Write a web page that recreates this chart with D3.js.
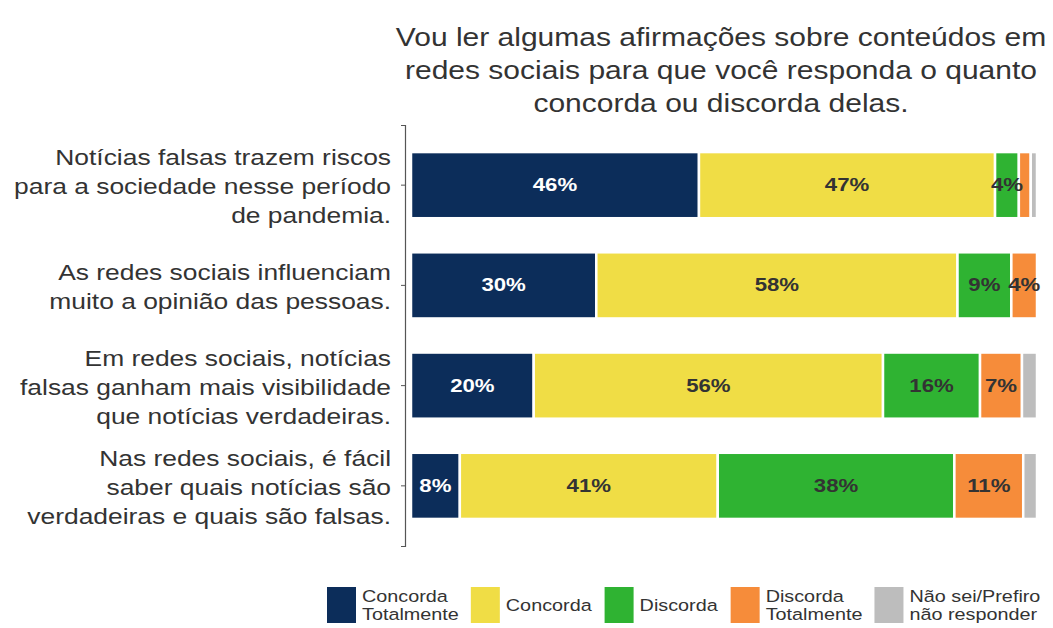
<!DOCTYPE html>
<html>
<head>
<meta charset="utf-8">
<script src="https://cdn.jsdelivr.net/npm/d3@7"></script>
<style>
  body { margin: 0; background: #fff; }
  text { font-family: "Liberation Sans", Arial, sans-serif; }
</style>
</head>
<body>
<div id="chart"></div>
<script>
// statements, top to bottom
const statements = [
  ["Notícias falsas trazem riscos", "para a sociedade nesse período", "de pandemia."],
  ["As redes sociais influenciam", "muito a opinião das pessoas."],
  ["Em redes sociais, notícias", "falsas ganham mais visibilidade", "que notícias verdadeiras."],
  ["Nas redes sociais, é fácil", "saber quais notícias são", "verdadeiras e quais são falsas."]
];
const answers = ["Concorda Totalmente", "Concorda", "Discorda", "Discorda Totalmente", "Não sei/Prefiro não responder"];
const legendLines = [["Concorda", "Totalmente"], ["Concorda"], ["Discorda"], ["Discorda", "Totalmente"], ["Não sei/Prefiro", "não responder"]];

// shares per statement (percent)
const concordaTotal = [46.0, 29.6, 19.6, 7.8];
const concorda      = [47.3, 57.7, 55.8, 41.2];
const discorda      = [3.8, 8.6, 15.5, 37.8];
const discordaTotal = [1.9, 4.1, 6.7, 11.0];
const naoSei        = [1.0, 0, 2.4, 2.2];
// printed labels
const labelsCT = ["46%", "30%", "20%", "8%"];
const labelsC  = ["47%", "58%", "56%", "41%"];
const labelsD  = ["4%", "9%", "16%", "38%"];
const labelsDT = ["", "4%", "7%", "11%"];
const labelsN  = ["", "", "", ""];

const COLORS = ["#0c2d5a", "#f0dd45", "#2fb332", "#f68c3a", "#bdbdbd"];
const TEXT = "#333";
const W = 1053, H = 628;
const SX = 1.2; // the picture is a bit wider than tall, text too

const series = [concordaTotal, concorda, discorda, discordaTotal, naoSei];
const labels = [labelsCT, labelsC, labelsD, labelsDT, labelsN];

const rows = statements.map((s, i) => {
  let x0 = 0;
  return {
    id: i,
    segs: series.map((arr, k) => {
      const seg = { k: k, x0: x0, x1: x0 + arr[i], label: labels[k][i] };
      x0 += arr[i];
      return seg;
    })
  };
});

const svg = d3.select("#chart").append("svg")
  .attr("width", W).attr("height", H);

// multi-line text, stretched along x
function addText(parent, x, y, lines, lh, size, anchor) {
  const t = parent.append("text")
    .attr("transform", `translate(${x},${y}) scale(${SX},1)`)
    .attr("text-anchor", anchor)
    .attr("font-size", size)
    .attr("fill", TEXT);
  lines.forEach((ln, j) => {
    t.append("tspan").attr("x", 0)
      .attr("y", (j - (lines.length - 1) / 2) * lh)
      .text(ln);
  });
  return t;
}

// title
const title = ["Vou ler algumas afirmações sobre conteúdos em",
               "redes sociais para que você responda o quanto",
               "concorda ou discorda delas."];
addText(svg, 721, 79, title, 33, 25, "middle");

const xScale = d3.scaleLinear().domain([0, 100]).range([411, 1037]);
const yScale = d3.scaleBand()
  .domain(rows.map(d => d.id))
  .range([125, 546])
  .paddingInner(0.34)
  .paddingOuter(0.27);

// y axis
const yAxis = svg.append("g")
  .attr("transform", "translate(405,0)")
  .call(d3.axisLeft(yScale).tickSize(4).tickFormat(""));
yAxis.select(".domain").attr("stroke", "#555").attr("stroke-width", 1.2);
yAxis.selectAll(".tick line").attr("stroke", "#555");

const labelG = svg.append("g");
statements.forEach((lines, i) => {
  const cy = yScale(i) + yScale.bandwidth() / 2;
  addText(labelG, 391, cy + 9, lines, 29, 22, "end");
});

// bars
const rowG = svg.append("g").selectAll("g").data(rows).join("g")
  .attr("transform", d => `translate(0,${yScale(d.id)})`);

rowG.selectAll("rect").data(d => d.segs.filter(s => s.x1 > s.x0)).join("rect")
  .attr("x", s => xScale(s.x0))
  .attr("width", s => xScale(s.x1) - xScale(s.x0))
  .attr("y", 0)
  .attr("height", yScale.bandwidth())
  .attr("fill", s => COLORS[s.k])
  .attr("stroke", "#fff")
  .attr("stroke-width", 2.5);

rowG.selectAll("text").data(d => d.segs.filter(s => s.label)).join("text")
  .attr("transform", s => `translate(${xScale((s.x0 + s.x1) / 2)},${yScale.bandwidth() / 2 + 6}) scale(${SX},1)`)
  .attr("text-anchor", "middle")
  .attr("font-size", 18.5)
  .attr("font-weight", "bold")
  .attr("fill", s => s.k === 0 ? "#fff" : TEXT)
  .text(s => s.label);

// legend
const legend = svg.append("g");
let lx = 327;
answers.forEach((a, k) => {
  legend.append("rect")
    .attr("x", lx).attr("y", 587)
    .attr("width", 29).attr("height", 36)
    .attr("fill", COLORS[k]);
  const t = addText(legend, lx + 35, 611, legendLines[k], 18, 16.5, "start");
  lx += 35 + t.node().getBBox().width * SX + 12;
});
</script>
</body>
</html>
